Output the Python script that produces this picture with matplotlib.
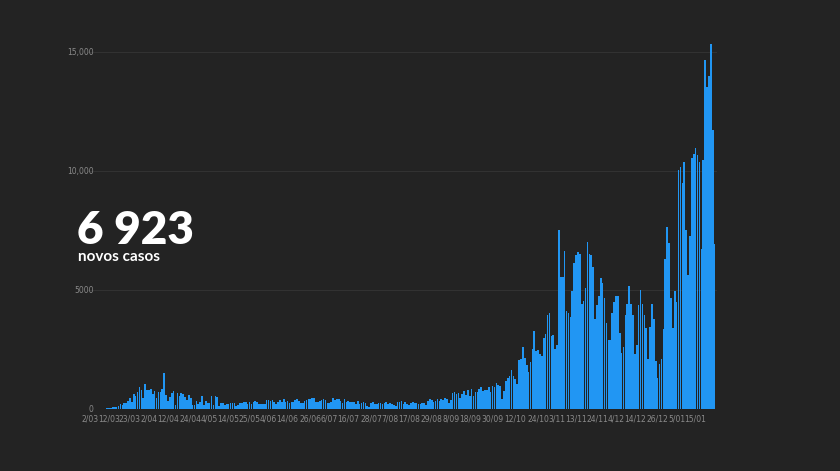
import matplotlib.pyplot as plt, numpy as np, pandas as pd

# daily new cases, 2 Mar 2020 - 25 Jan 2021
mar = [2,0,2,3,4,8,9,9,11,18,19,34,57,76,86,117,194,143,235,260,320,460,302,633,549,724,902,792,446,1035]
apr = [808,783,852,638,754,452,712,699,815,1516,598,349,514,657,750,181,663,521,657,603,516,371,595,444,163,163,344,183,295,533]
may = [173,342,227,242,533,178,553,480,138,226,234,163,187,219,229,228,257,98,175,227,252,288,271,188,304,195,272,350,279,200,220]
jun = [189,192,366,377,350,382,270,191,294,375,288,421,292,346,264,294,295,361,417,324,238,254,311,367,421,401,451,457,266,300]
jul = [328,355,413,374,229,232,283,443,375,418,402,340,232,417,287,312,288,306,270,194,313,204,248,273,226,135,87,232,269,216,203]
aug = [232,224,201,253,290,187,224,196,163,138,291,271,325,212,286,219,171,225,281,247,240,202,190,238,224,169,318,393,367,290,319]
sep = [401,331,405,389,467,427,224,390,646,687,620,673,442,613,770,597,780,552,825,552,691,691,835,899,750,780,800,900,689,966]
oct_ = [925,1092,1014,963,427,746,1183,1278,1394,1646,1395,1242,1030,2072,2101,2608,2153,1856,1543,1949,2535,3270,2447,2473,2290,2214,2985,3165,3960,4007,3062]
nov = [3082,2506,2696,7497,5550,5551,6640,4096,4016,3857,4935,6134,6473,6602,6526,4423,4522,5095,6994,6489,6472,5948,3779,4379,4735,5517,5306,4640,3601,2900]
dec = [2905,4044,4510,4726,4743,3169,2346,2589,3931,4403,5143,4389,3961,2292,2677,4352,5009,4418,3940,3386,2086,3447,4412,3770,2000,1310,1875,2093,3336,6300,7627]
jan = [6951,4663,3384,4956,4475,10027,10176,9478,10371,7502,5604,7259,10556,10698,10947,10663,10385,6702,10455,14647,13544,13987,15333,11721,6923]
cases = mar + apr + may + jun + jul + aug + sep + oct_ + nov + dec + jan
dates = pd.date_range("2020-03-02", periods=len(cases))

tick_labels = ["2/03","12/03","23/03","2/04","12/04","24/04","4/05","14/05","25/05","4/06","14/06",
               "26/06","6/07","16/07","28/07","7/08","17/08","29/08","8/09","18/09","30/09","12/10",
               "24/10","3/11","13/11","24/11","4/12","14/12","26/12","5/01","15/01"]
day_labels = [f"{d.day}/{d.month:02d}" for d in dates]
tick_pos = [day_labels.index(t) for t in tick_labels]

bg = "#232323"
fig = plt.figure(figsize=(8.4, 4.71), dpi=100, facecolor=bg)
ax = fig.add_axes([0.105, 0.132, 0.748, 0.783], facecolor=bg)
x = np.arange(len(cases))
ax.bar(x, cases, width=0.85, color="#2196f3", linewidth=0)
ax.set_xlim(-1, len(cases))
ax.set_ylim(0, 15500)
ax.set_yticks([0, 5000, 10000, 15000])
ax.set_yticklabels(["0", "5000", "10,000", "15,000"])
ax.set_xticks(tick_pos)
ax.set_xticklabels(tick_labels)
ax.tick_params(axis="x", colors="#8a8a8a", labelsize=5.5, length=0, pad=4)
ax.tick_params(axis="y", colors="#8a8a8a", labelsize=5.5, length=0, pad=-4)
ax.grid(axis="y", color="#333333", linewidth=0.7)
ax.set_axisbelow(True)
for s in ax.spines.values():
    s.set_visible(False)

fig.text(0.092, 0.482, "6 923", color="white", fontsize=33, fontweight="heavy", family="Lato")
fig.text(0.093, 0.445, "novos casos", color="white", fontsize=11, fontweight="bold", family="Lato")

fig.savefig("out.png", dpi=100, facecolor=bg)
